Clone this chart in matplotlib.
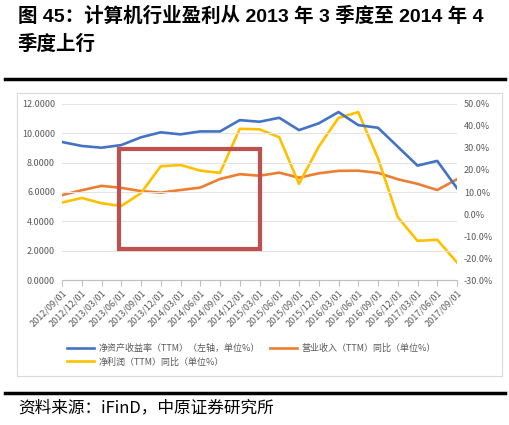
import matplotlib
matplotlib.use("Agg")
import numpy as np
from matplotlib import pyplot as plt
from matplotlib.patches import Rectangle

plt.rcParams['font.family'] = ['Noto Sans CJK SC', 'DejaVu Sans']

quarters = ['2012/09/01', '2012/12/01', '2013/03/01', '2013/06/01', '2013/09/01',
            '2013/12/01', '2014/03/01', '2014/06/01', '2014/09/01', '2014/12/01',
            '2015/03/01', '2015/06/01', '2015/09/01', '2015/12/01', '2016/03/01',
            '2016/06/01', '2016/09/01', '2016/12/01', '2017/03/01', '2017/06/01',
            '2017/09/01']

# ROE TTM, left axis
roe = [9.41, 9.14, 9.02, 9.20, 9.73, 10.07, 9.93, 10.13, 10.13, 10.90, 10.79,
       11.06, 10.22, 10.68, 11.45, 10.56, 10.38, 9.09, 7.80, 8.12, 6.26]
# revenue yoy, right axis (%)
revenue = [8.6, 10.8, 12.8, 11.9, 10.4, 9.7, 10.9, 12.0, 15.9, 18.1, 17.4,
           18.8, 16.5, 18.5, 19.6, 19.7, 18.7, 15.8, 13.7, 10.9, 15.8]
# net profit yoy, right axis (%)
profit = [5.2, 7.3, 4.9, 3.6, 9.5, 21.7, 22.3, 19.7, 18.7, 38.7, 38.5,
          34.9, 13.7, 30.6, 43.7, 46.3, 25.3, -1.4, -12.2, -11.7, -22.0]

labels = ['净资产收益率（TTM）（左轴，单位%）', '营业收入（TTM）同比（单位%）',
          '净利润（TTM）同比（单位%）']

blue = '#4472C4'
orange = '#ED7D31'
yellow = '#FFC000'
gray = '#595959'
title_font = ['Liberation Sans', 'Noto Sans CJK SC']

fig = plt.figure(figsize=(5.1, 4.25), dpi=100)

# title
fig.text(18/510, 1 - 16/425, '图 45：计算机行业盈利从 2013 年 3 季度至 2014 年 4',
         fontsize=14, fontweight='bold', va='center', ha='left', family=title_font)
fig.text(18/510, 1 - 44/425, '季度上行', fontsize=14, fontweight='bold',
         va='center', ha='left', family=title_font)

# thick lines and chart frame
fig.add_artist(plt.Line2D([5/510, 505/510], [1 - 79/425, 1 - 79/425],
                          color='black', lw=2.5))
fig.add_artist(plt.Line2D([5/510, 505/510], [1 - 393/425, 1 - 393/425],
                          color='black', lw=2.5))
fig.add_artist(Rectangle((17/510, 1 - 376/425), 485/510, 283/425,
                         transform=fig.transFigure, fill=False,
                         edgecolor='#D9D9D9', lw=0.8))

fig.text(18/510, 1 - 408/425, '资料来源：iFinD，中原证券研究所', fontsize=12,
         va='center', ha='left')

ax = fig.add_axes([62/510, 1 - 280/425, 395/510, 176/425])
ax2 = ax.twinx()

x = np.arange(len(quarters))
l1, = ax.plot(x, roe, color=blue, lw=1.9, zorder=3)
l2, = ax2.plot(x, revenue, color=orange, lw=1.9)
l3, = ax2.plot(x, profit, color=yellow, lw=1.9)

ax.set_zorder(ax2.get_zorder() + 1)
ax.patch.set_visible(False)

ax.set_xlim(0, len(quarters) - 1)
ax.set_ylim(0, 12)
ax2.set_ylim(-30, 50)
ax.set_yticks(np.arange(0, 12.1, 2))
ax.set_yticklabels(['%.4f' % v for v in np.arange(0, 12.1, 2)])
ax2.set_yticks(np.arange(-30, 51, 10))
ax2.set_yticklabels(['%.1f%%' % v for v in np.arange(-30, 51, 10)])

ax.grid(axis='y', color='#E3E3E3', lw=0.8)
ax.set_axisbelow(True)

for a in (ax, ax2):
    for s in a.spines.values():
        s.set_visible(False)
    a.tick_params(axis='y', length=0, labelsize=6.5, labelcolor=gray, pad=5)
ax.spines['bottom'].set_visible(True)
ax.spines['bottom'].set_color('#BFBFBF')
ax.set_xticks(x)
ax.set_xticklabels(quarters, rotation=45, ha='right', rotation_mode='anchor')
ax.tick_params(axis='x', length=4, color='#BFBFBF', labelsize=6.5, labelcolor=gray,
               pad=2)

# highlight box
ax.add_patch(Rectangle((2.9, 2.1), 7.15, 6.8, fill=False, edgecolor='#C0504D',
                       lw=3, zorder=5))

fig.legend([l1, l3, l2], [labels[0], labels[2], labels[1]], ncol=2,
           loc='upper left', bbox_to_anchor=(62/510, 1 - 339/425), frameon=False,
           fontsize=6.5, labelcolor=gray, handlelength=3, columnspacing=1.2,
           handletextpad=0.5, labelspacing=0.5, borderpad=0)

fig.savefig('out.png', dpi=100)
